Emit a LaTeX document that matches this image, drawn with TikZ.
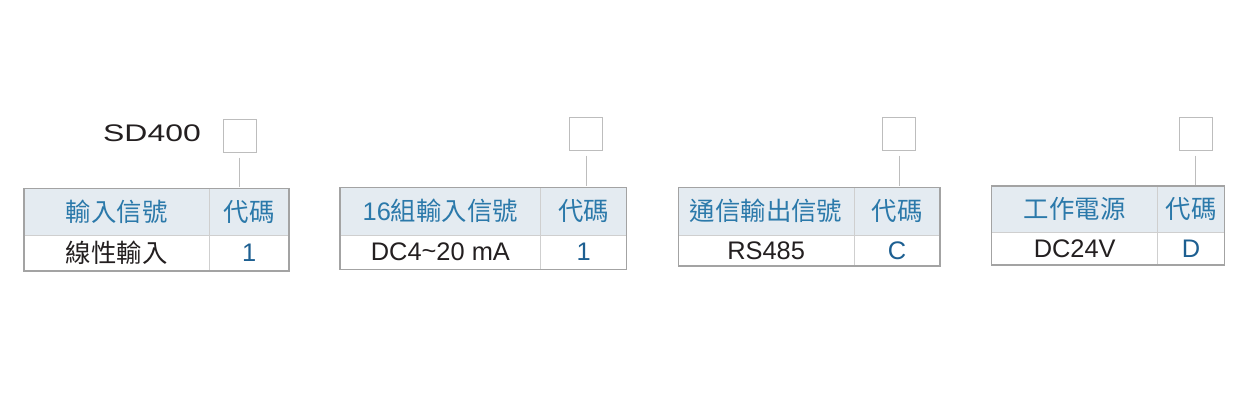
\documentclass[tikz,border=0pt]{standalone}
\usepackage{fontspec}
\setmainfont{Liberation Sans}
\newfontfamily\cjk{Noto Sans CJK TC}
\usetikzlibrary{positioning}
\definecolor{headfill}{HTML}{E4EBF1}
\definecolor{headblue}{HTML}{2B79AA}
\definecolor{codeblue}{HTML}{1D5F91}
\definecolor{framegray}{HTML}{A3A3A3}
\definecolor{rulegray}{HTML}{CFCFCF}
\definecolor{boxgray}{HTML}{BDBDBD}
\definecolor{inkblack}{HTML}{231F20}

\tikzset{
  cell/.style={inner sep=0pt, outer sep=0pt, anchor=north west, font=\fontsize{25.4}{27}\selectfont},
  headcell/.style={cell, fill=headfill, text=headblue},
  datacell/.style={cell, text=inkblack},
  codecell/.style={cell, text=codeblue},
  selbox/.style={draw=boxgray, line width=1pt, minimum size=33pt, inner sep=0pt},
  frame/.style={draw=framegray, line width=1.5pt},
  rule/.style={draw=rulegray, line width=1pt},
  link/.style={draw=boxgray, line width=0.8pt, shorten <=5pt, shorten >=1pt}
}

\begin{document}
\begin{tikzpicture}[x=1pt, y=-1pt]
% Canvas
\useasboundingbox (0,0) rectangle (1248,420);

% Model name
\node[text=inkblack, font=\fontsize{24}{26}\selectfont] (model) at (152,133.7) {\scalebox{1.33}[1]{SD400}};

% Table 1: input signal
\node[selbox] (sel1) at (239.5,135.5) {};
\node[headcell, minimum width=185.3pt, minimum height=46.7pt] (in1) at (24,188.3) {\cjk 輸入信號};
\node[headcell, minimum width=79.7pt, minimum height=46.7pt, right=0pt of in1] (code1) {\cjk 代碼};
\node[datacell, minimum width=185.3pt, minimum height=36pt, below=0pt of in1] (val1) {\cjk 線性輸入};
\node[codecell, minimum width=79.7pt, minimum height=36pt, below=0pt of code1] (cv1) {1};
\draw[rule] (in1.south west) -- (code1.south east);
\draw[rule] (in1.north east) -- (val1.south east);
\draw[frame] (in1.north west) rectangle (cv1.south east);
\draw[link] (sel1.south) -- (sel1.south |- in1.north);

% Table 2: 16 inputs
\node[selbox] (sel2) at (586,133.7) {};
\node[headcell, minimum width=200.7pt, minimum height=47.7pt] (in2) at (340,187.3) {16{\cjk 組輸入信號}};
\node[headcell, minimum width=86pt, minimum height=47.7pt, right=0pt of in2] (code2) {\cjk 代碼};
\node[datacell, minimum width=200.7pt, minimum height=34.3pt, below=0pt of in2] (val2) {DC4\raisebox{0.1ex}{\textasciitilde}20 mA};
\node[codecell, minimum width=86pt, minimum height=34.3pt, below=0pt of code2] (cv2) {1};
\draw[rule] (in2.south west) -- (code2.south east);
\draw[rule] (in2.north east) -- (val2.south east);
\draw[frame] (in2.north west) rectangle (cv2.south east);
\draw[link] (sel2.south) -- (sel2.south |- in2.north);

% Table 3: communication output
\node[selbox] (sel3) at (899.3,133.7) {};
\node[headcell, minimum width=175.7pt, minimum height=47.7pt] (in3) at (678.3,187.3) {\cjk 通信輸出信號};
\node[headcell, minimum width=86pt, minimum height=47.7pt, right=0pt of in3] (code3) {\cjk 代碼};
\node[datacell, minimum width=175.7pt, minimum height=31pt, below=0pt of in3] (val3) {RS485};
\node[codecell, minimum width=86pt, minimum height=31pt, below=0pt of code3] (cv3) {C};
\draw[rule] (in3.south west) -- (code3.south east);
\draw[rule] (in3.north east) -- (val3.south east);
\draw[frame] (in3.north west) rectangle (cv3.south east);
\draw[link] (sel3.south) -- (sel3.south |- in3.north);

% Table 4: power supply
\node[selbox] (sel4) at (1195.7,133.7) {};
\node[headcell, minimum width=166pt, minimum height=46.7pt] (in4) at (991.7,186) {\cjk 工作電源};
\node[headcell, minimum width=66.6pt, minimum height=46.7pt, right=0pt of in4] (code4) {\cjk 代碼};
\node[datacell, minimum width=166pt, minimum height=32.3pt, below=0pt of in4] (val4) {DC24V};
\node[codecell, minimum width=66.6pt, minimum height=32.3pt, below=0pt of code4] (cv4) {D};
\draw[rule] (in4.south west) -- (code4.south east);
\draw[rule] (in4.north east) -- (val4.south east);
\draw[frame] (in4.north west) rectangle (cv4.south east);
\draw[link] (sel4.south) -- (sel4.south |- in4.north);
\end{tikzpicture}
\end{document}
